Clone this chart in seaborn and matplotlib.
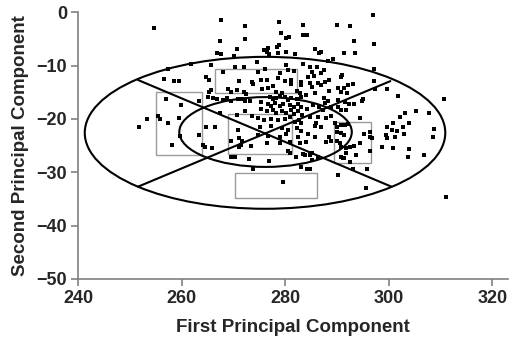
import numpy as np
import pandas as pd
import matplotlib
matplotlib.use("Agg")
import matplotlib.pyplot as plt
from matplotlib.patches import Ellipse, Rectangle
import seaborn as sns

# scores (first PC, second PC)
pc1 = [
    254.7, 257.3, 261.9, 256.6, 258.5, 259.5, 257.0, 263.3, 259.9, 253.3,
    255.4, 255.9, 259.4, 257.4, 251.8, 259.7, 263.3, 258.1, 264.2,
    267.6, 272.2, 267.4, 272.2, 270.7, 266.9, 267.6, 270.1, 265.6, 270.4,
    272.1, 268.0, 264.8, 265.3, 271.1, 273.5, 273.8, 265.6, 265.3, 269.0,
    269.5, 270.6, 272.1, 272.5, 265.1, 266.1, 266.9, 268.0, 268.7, 269.5,
    270.9, 271.6, 272.2, 273.2, 267.4, 272.3, 270.6, 273.6, 264.8, 266.4,
    270.9, 269.5, 271.1, 271.6, 271.4, 271.1, 273.4, 265.9, 264.6, 269.5,
    270.3, 273.0,
    273.8, 276.8, 281.0, 282.0, 283.8, 284.7, 283.1, 284.3, 284.7, 279.5,
    290.2, 291.8, 293.7, 293.1, 291.2,
    278.8, 283.4, 279.1, 283.4, 280.2, 280.7, 278.8, 278.5, 276.7, 275.9,
    276.4, 276.8, 278.6, 280.1, 281.8, 274.5, 280.2, 283.4, 276.1, 274.8,
    278.9, 280.5, 281.7, 275.4, 276.4, 278.6, 279.9, 281.1, 281.2, 283.1,
    283.1, 277.7, 275.5, 276.6, 278.3, 279.3, 282.2, 282.8, 277.0, 277.7,
    278.3, 278.9, 280.0, 280.5, 281.2, 282.2, 283.0, 275.4, 276.7, 277.3,
    278.1, 278.9, 279.6, 280.9, 281.7, 282.4, 283.1, 275.4, 276.4, 277.7,
    278.3, 279.3, 280.2, 281.1, 281.7, 282.5, 283.3, 274.8, 275.9, 277.3,
    278.6, 279.9, 280.9, 281.8, 282.6, 283.1, 275.1, 277.3, 279.3, 280.5,
    282.2, 283.1, 274.8, 276.6, 278.9, 280.2, 282.5, 276.4, 278.9, 280.9,
    282.8, 280.5, 283.4,
    290.0, 292.6, 284.3, 293.3, 285.7, 286.9, 286.5, 291.3, 293.4, 289.2,
    288.3, 284.7, 286.2, 287.5, 285.2, 286.9, 291.0, 290.7, 284.4, 285.6,
    288.4, 287.6, 284.7, 286.3, 285.2, 287.0, 292.2, 293.0, 290.2, 291.3,
    290.8, 292.0, 284.1, 285.7, 288.4, 287.5, 288.3, 287.6, 290.2, 291.6,
    292.4, 293.3, 285.4, 286.5, 284.3, 287.3, 288.8, 290.2, 290.8, 291.8,
    284.7, 286.3, 287.8, 288.9, 286.0, 287.0, 285.7, 289.6, 289.9, 290.8,
    291.5, 292.1, 289.9, 290.8, 291.3, 284.4, 285.7, 288.4, 284.1, 287.9,
    288.9, 289.9, 290.5, 290.7, 291.8, 292.6, 293.3, 285.1, 286.3, 285.2,
    290.8, 291.3, 292.6,
    296.9, 297.1, 297.1, 297.1, 297.3, 299.6, 295.0, 294.9, 301.8, 310.6,
    303.2, 305.2, 307.7, 302.1, 303.9, 300.8, 299.6, 300.7, 301.6, 302.7,
    303.0, 299.5, 299.6, 301.1, 308.8, 308.5, 295.3, 296.3, 296.8, 296.3,
    298.6, 300.8, 303.9, 303.7, 306.7, 296.4, 295.8, 295.6, 311.0, 294.4,
    294.4,
]
pc2 = [
    -3.0, -10.6, -9.7, -12.5, -12.8, -12.9, -16.3, -16.6, -17.4, -20.0,
    -19.4, -19.95, -19.8, -20.8, -21.6, -23.2, -23.0, -24.9, -24.9,
    -1.4, -2.6, -5.4, -5.0, -6.9, -7.6, -7.9, -8.1, -9.9, -10.2,
    -10.2, -11.1, -12.1, -12.7, -12.9, -13.0, -13.4, -14.6, -14.9, -14.4,
    -14.9, -14.6, -14.9, -15.3, -15.9, -16.1, -16.3, -16.4, -16.1, -16.6,
    -16.3, -16.3, -16.6, -16.6, -18.9, -18.5, -19.3, -19.4, -21.5, -21.6,
    -22.1, -24.1, -23.5, -24.1, -24.9, -25.2, -25.1, -25.4, -25.2, -27.1,
    -27.1, -27.5,
    -29.3, -27.8, -26.3, -27.2, -26.8, -26.8, -29.0, -29.4, -29.4, -31.8,
    -30.5, -26.4, -26.8, -29.4, -27.4,
    -1.8, -2.4, -3.8, -4.3, -4.9, -4.7, -6.1, -6.5, -6.75, -7.1,
    -7.5, -7.9, -7.7, -7.5, -7.9, -9.3, -9.9, -9.6, -10.7, -11.1,
    -11.3, -10.8, -11.0, -12.7, -12.6, -12.4, -12.8, -12.7, -13.4, -13.0,
    -13.6, -13.8, -14.4, -14.1, -14.9, -15.2, -14.7, -15.1, -15.9, -16.3,
    -16.1, -15.7, -15.9, -16.4, -16.1, -16.3, -15.9, -16.8, -17.2, -17.5,
    -17.1, -17.5, -17.2, -17.4, -17.7, -17.2, -17.7, -18.2, -18.6, -18.3,
    -18.9, -18.5, -18.9, -18.3, -19.1, -18.6, -19.3, -19.9, -20.2, -20.1,
    -20.2, -20.1, -19.7, -20.5, -20.2, -20.8, -21.5, -21.3, -21.75, -22.1,
    -21.75, -22.2, -23.0, -23.2, -23.3, -22.8, -23.3, -24.6, -24.45, -24.3,
    -24.6, -26.1, -26.6,
    -2.4, -2.6, -4.3, -5.4, -6.9, -7.4, -7.6, -7.7, -7.6, -8.8,
    -9.1, -10.3, -10.2, -10.8, -11.1, -11.4, -11.8, -12.1, -12.1, -11.9,
    -12.7, -13.0, -13.3, -13.3, -13.95, -13.6, -13.6, -13.4, -14.25, -14.1,
    -14.9, -15.1, -15.5, -15.2, -14.7, -16.1, -16.6, -16.95, -16.4, -16.8,
    -17.2, -17.2, -17.4, -17.7, -18.2, -18.3, -17.8, -17.7, -18.3, -18.3,
    -19.6, -19.7, -19.9, -19.4, -20.7, -21.45, -21.3, -20.8, -21.6, -21.1,
    -21.1, -20.9, -22.4, -22.6, -23.0, -22.8, -23.3, -23.4, -24.3, -24.3,
    -24.1, -24.1, -24.6, -25.2, -25.5, -25.3, -25.1, -26.4, -27.1, -27.7,
    -27.1, -27.4, -28.0,
    -0.5, -5.9, -10.7, -12.9, -14.4, -14.4, -16.3, -16.6, -15.7, -16.3,
    -18.9, -18.6, -18.8, -19.6, -20.8, -20.7, -21.6, -22.1, -22.2, -21.45,
    -22.8, -23.0, -23.6, -23.4, -21.8, -23.3, -22.8, -23.3, -23.6, -22.4,
    -25.2, -25.5, -25.7, -27.1, -26.8, -26.1, -29.4, -33.0, -34.6, -19.8,
    -24.5,
]

# ellipses: centre x, centre y, width, height
ell_cx = [276.1, 276.2]
ell_cy = [-22.6, -22.45]
ell_w = [69.6, 33.3]
ell_h = [28.5, 13.1]

# dividing lines through the outer ellipse
line_x = [[251.6, 300.5], [251.6, 300.3]]
line_y = [[-12.7, -32.7], [-32.7, -12.9]]

# grey boxes: x0, x1, y0, y1
box_x0 = [255.1, 266.5, 269.0, 289.4, 270.4]
box_x1 = [263.9, 282.3, 281.4, 296.5, 286.1]
box_y0 = [-26.7, -15.1, -26.5, -28.3, -34.8]
box_y1 = [-15.0, -10.6, -19.0, -20.5, -30.1]

df = pd.DataFrame({"pc1": pc1, "pc2": pc2})

sns.set_style("white")
plt.rcParams["font.family"] = ["Liberation Sans", "DejaVu Sans"]

fig = plt.figure(figsize=(5.1, 3.43), dpi=100)
ax = fig.add_axes([0.153, 0.187, 0.843, 0.777])

for cx, cy, w, h in zip(ell_cx, ell_cy, ell_w, ell_h):
    ax.add_patch(Ellipse((cx, cy), w, h, fill=False, edgecolor="black", lw=1.5, zorder=3))
for lx, ly in zip(line_x, line_y):
    ax.plot(lx, ly, color="black", lw=1.5, zorder=3)
for x0, x1, y0, y1 in zip(box_x0, box_x1, box_y0, box_y1):
    ax.add_patch(Rectangle((x0, y0), x1 - x0, y1 - y0, fill=False,
                           edgecolor="#9a9a9a", lw=1.0, zorder=2))

sns.scatterplot(data=df, x="pc1", y="pc2", marker="s", color="black",
                s=8, linewidth=0, ax=ax, zorder=4)

ax.set_xlim(240, 323)
ax.set_ylim(-50, 0)
ax.set_xticks([240, 260, 280, 300, 320])
ax.set_yticks([0, -10, -20, -30, -40, -50])
ax.set_xlabel("First Principal Component", fontsize=13.5, fontweight="bold", labelpad=9)
ax.set_ylabel("Second Principal Component", fontsize=13.5, fontweight="bold", labelpad=5)

for s in ["top", "right"]:
    ax.spines[s].set_visible(False)
for s in ["left", "bottom"]:
    ax.spines[s].set_color("#808080")
    ax.spines[s].set_linewidth(1.2)
ax.tick_params(direction="out", length=5, width=1.2, color="#808080",
               labelsize=13, pad=3, left=True, bottom=True)
for lab in ax.get_xticklabels() + ax.get_yticklabels():
    lab.set_fontweight("bold")

fig.savefig("out.png", dpi=100)
